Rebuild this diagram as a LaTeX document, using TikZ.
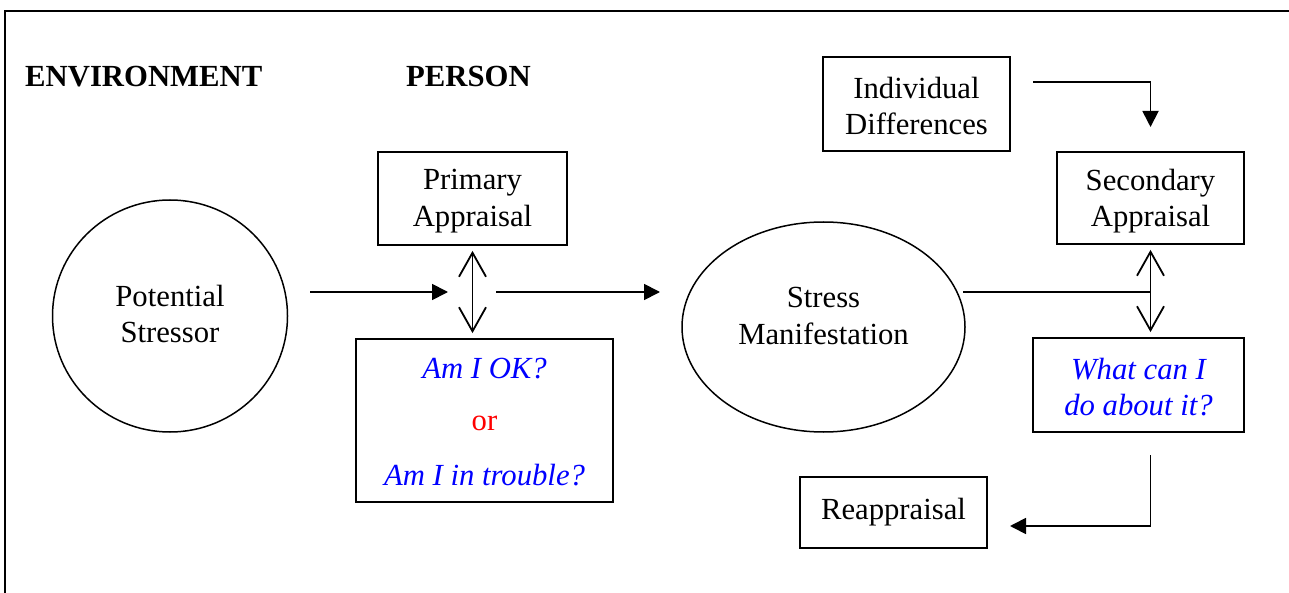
\documentclass[tikz,border=0pt]{standalone}
\usepackage{fontspec}
\setmainfont{Liberation Serif}
\usetikzlibrary{arrows.meta,shapes.geometric}
\definecolor{qblue}{RGB}{0,0,255}
\definecolor{qred}{RGB}{255,0,0}
\begin{document}
\begin{tikzpicture}[x=1pt,y=-1pt,
  every node/.style={font=\fontsize{30.7}{36.5}\selectfont, inner sep=0pt, align=center},
  box/.style={draw, line width=1.8pt, rectangle},
  oval/.style={draw, line width=1.5pt, ellipse},
  conn/.style={line width=1.8pt},
  tri/.style={-{Triangle[length=16pt,width=16pt]}},
  barb/.style={{Straight Barb[length=24pt,width=27pt]}-{Straight Barb[length=24pt,width=27pt]}},
  head/.style={font=\fontsize{30.7}{36.5}\selectfont\bfseries, anchor=base west},
  q/.style={text=qblue, font=\fontsize{30.7}{36.5}\selectfont\itshape}
]
\useasboundingbox (0,0) rectangle (1289,593);
\draw[line width=1.3pt] (5,593) -- (5,11) -- (1289,11);

\node[head] (env) at (25,87) {ENVIRONMENT};
\node[head] (per) at (406,87) {PERSON};

\node[oval, minimum width=235pt, minimum height=232pt] (ps) at (170,316) {};
\node (pst) at (170,314) {Potential\\Stressor};
\node[box, minimum width=189pt, minimum height=93pt] (pa) at (472.5,198.5) {};
\node (pat) at (472.5,201) {Primary\\Appraisal};
\node[box, minimum width=257pt, minimum height=163pt] (ok) at (484.5,420.5) {};
\node[q] (ok1) at (484.5,369) {Am I OK?};
\node[text=qred] (ok2) at (484.5,423) {or};
\node[q] (ok3) at (484.5,475) {Am I in trouble?};

\node[oval, minimum width=283pt, minimum height=210pt] (sm) at (823.5,327) {};
\node (smt) at (823.5,316) {Stress\\Manifestation};

\node[box, minimum width=187pt, minimum height=94pt] (id) at (916.5,104) {};
\node (idt) at (916.5,106) {Individual\\Differences};
\node[box, minimum width=187pt, minimum height=92pt] (sa) at (1150.5,198) {};
\node (sat) at (1150.5,201) {Secondary\\Appraisal};
\node[box, minimum width=211pt, minimum height=94pt] (wc) at (1138.5,385) {};
\node[q] (wct) at (1138.5,387) {What can I\\do about it?};
\node[box, minimum width=187pt, minimum height=71pt] (re) at (893.5,512.5) {Reappraisal};

\coordinate (s1) at (310,292);
\coordinate (j1) at (448,292);
\coordinate (j2) at (496,292);
\coordinate (e1) at (660,292);
\coordinate (m1) at (963,292);
\coordinate (i1) at (1033,82);
\coordinate (i2) at (1150.5,127);
\coordinate (w1) at (1150.5,455);
\coordinate (r1) at (1010,526);

\draw[conn, tri] (s1) -- (j1);
\draw[conn, tri] (j2) -- (e1);
\draw[conn, barb, shorten <=5pt, shorten >=5pt] (pa.south) -- (pa.south |- ok.north);
\draw[conn] (m1) -- (sa.south |- m1);
\draw[conn, barb, shorten <=5pt, shorten >=5pt] (sa.south) -- (sa.south |- wc.north);
\draw[conn, tri] (i1) -| (i2);
\draw[conn, tri] (w1) |- (r1);
\end{tikzpicture}
\end{document}
